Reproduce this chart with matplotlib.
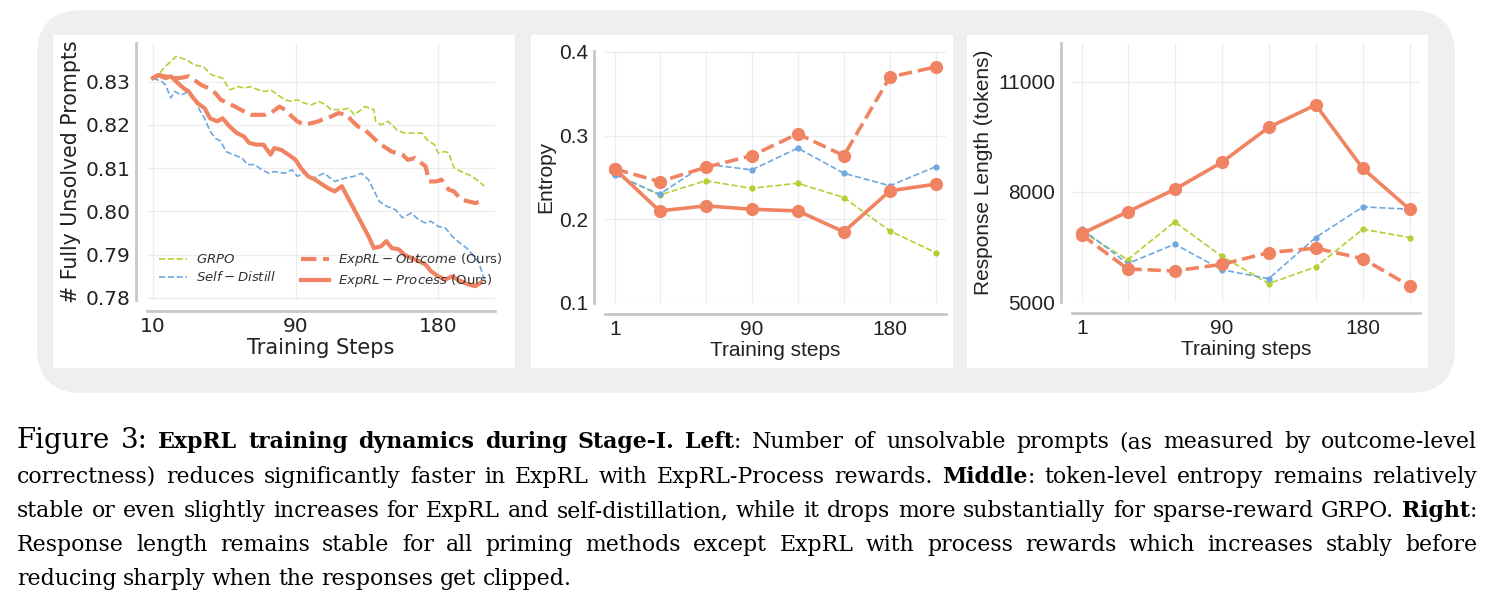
import matplotlib
matplotlib.use('Agg')
import matplotlib.pyplot as plt
from matplotlib.patches import FancyBboxPatch, Rectangle

# ---- left panel: fully unsolved prompts (x = position along the smoothed curve) ----
grpo_x = [0, 4, 7, 13, 19, 23, 28, 33, 39, 43, 48, 51, 55, 59, 63, 66, 70, 74, 78, 81,
          85, 89, 93, 97, 100, 106, 110, 113, 119, 124, 125, 128, 132, 137, 141, 147, 151, 154, 158, 160,
          164, 166, 169, 173, 179, 183, 186]
grpo_y = [0.8308, 0.8321, 0.8335, 0.8358, 0.8350, 0.8338, 0.8335, 0.8315, 0.8308, 0.8281,
          0.8288, 0.8285, 0.8288, 0.8281, 0.8277, 0.8281, 0.8269, 0.8258, 0.8254, 0.8258,
          0.8250, 0.8246, 0.8254, 0.8246, 0.8235, 0.8235, 0.8238, 0.8223, 0.8242, 0.8235,
          0.8208, 0.8200, 0.8208, 0.8188, 0.8181, 0.8181, 0.8181, 0.8165, 0.8154, 0.8135,
          0.8138, 0.8135, 0.8100, 0.8092, 0.8081, 0.8069, 0.8058]

distill_x = [0, 5, 7, 10, 12, 16, 20, 23, 26, 29, 32, 35, 38, 41, 45, 50, 53, 57, 61, 65,
             68, 74, 78, 81, 85, 90, 96, 102, 108, 113, 117, 121, 127, 131, 136, 140, 145, 149, 153, 156,
             160, 164, 168, 171, 177, 183, 186]
distill_y = [0.8308, 0.8300, 0.8292, 0.8262, 0.8277, 0.8269, 0.8277, 0.8262, 0.8235, 0.8215,
             0.8185, 0.8169, 0.8162, 0.8138, 0.8131, 0.8123, 0.8108, 0.8108, 0.8096, 0.8088,
             0.8092, 0.8088, 0.8096, 0.8081, 0.8088, 0.8077, 0.8088, 0.8069, 0.8077, 0.8081,
             0.8088, 0.8073, 0.8023, 0.8012, 0.8004, 0.7985, 0.7996, 0.7981, 0.7973, 0.7977,
             0.7965, 0.7962, 0.7942, 0.7931, 0.7912, 0.7881, 0.7842]

outcome_x = [0, 3, 7, 10, 15, 20, 23, 27, 31, 35, 38, 42, 46, 51, 55, 59, 63, 66, 71, 74,
             78, 81, 85, 89, 93, 95, 100, 104, 109, 111, 115, 119, 125, 128, 134, 140, 143, 147, 153, 155,
             159, 162, 166, 169, 173, 177, 181, 184, 186]
outcome_y = [0.8308, 0.8315, 0.8312, 0.8308, 0.8308, 0.8312, 0.8304, 0.8292, 0.8285, 0.8273,
             0.8258, 0.8250, 0.8242, 0.8231, 0.8223, 0.8223, 0.8223, 0.8227, 0.8242, 0.8235,
             0.8219, 0.8208, 0.8200, 0.8204, 0.8208, 0.8212, 0.8219, 0.8227, 0.8223, 0.8212,
             0.8196, 0.8188, 0.8165, 0.8154, 0.8138, 0.8131, 0.8119, 0.8123, 0.8104, 0.8069,
             0.8069, 0.8073, 0.8050, 0.8046, 0.8027, 0.8023, 0.8019, 0.8023, 0.8025]

process_x = [0, 3, 7, 10, 14, 17, 20, 22, 25, 29, 32, 36, 39, 43, 47, 51, 54, 58, 62, 66,
             68, 72, 76, 80, 83, 87, 91, 95, 98, 102, 106, 110, 113, 117, 121, 124, 128, 131, 134, 138,
             141, 145, 149, 153, 156, 160, 164, 168, 171, 177, 181, 184]
process_y = [0.8308, 0.8315, 0.8308, 0.8312, 0.8296, 0.8285, 0.8277, 0.8265, 0.8250, 0.8238,
             0.8215, 0.8208, 0.8215, 0.8196, 0.8181, 0.8173, 0.8158, 0.8154, 0.8154, 0.8131,
             0.8146, 0.8142, 0.8131, 0.8119, 0.8100, 0.8081, 0.8073, 0.8062, 0.8054, 0.8046,
             0.8058, 0.8027, 0.8004, 0.7973, 0.7942, 0.7915, 0.7919, 0.7931, 0.7915, 0.7912,
             0.7900, 0.7892, 0.7885, 0.7877, 0.7862, 0.7850, 0.7842, 0.7850, 0.7842, 0.7831,
             0.7827, 0.7835]

left_tick_pos = [0, 80, 160]
left_tick_labels = ['10', '90', '180']
left_yticks = [0.78, 0.79, 0.80, 0.81, 0.82, 0.83]

# ---- middle / right panels ----
steps = [1, 30, 60, 90, 120, 150, 180, 210]
step_labels = ['1', '', '', '90', '', '', '180', '']

ent_grpo = [0.254, 0.229, 0.246, 0.237, 0.243, 0.226, 0.186, 0.160]
ent_distill = [0.253, 0.230, 0.266, 0.259, 0.285, 0.255, 0.240, 0.263]
ent_outcome = [0.260, 0.245, 0.262, 0.276, 0.302, 0.276, 0.370, 0.382]
ent_process = [0.260, 0.210, 0.216, 0.212, 0.210, 0.185, 0.234, 0.242]

len_grpo = [6910, 6155, 7180, 6245, 5500, 5955, 6980, 6755]
len_distill = [6980, 6045, 6575, 5880, 5635, 6755, 7590, 7525]
len_outcome = [6820, 5900, 5845, 6025, 6345, 6465, 6180, 5435]
len_process = [6865, 7455, 8065, 8800, 9755, 10365, 8635, 7520]

GREEN = '#b5cf35'
BLUE = '#6fa8e0'
ORANGE = '#f08462'
INK = '#222222'

W, H = 1496, 605
fig = plt.figure(figsize=(W / 100, H / 100), dpi=100)

# rounded grey frame and white panels
frame = FancyBboxPatch((0.37, (H - 393) / 100), 14.18, 3.83,
                       boxstyle='round,pad=0,rounding_size=0.45',
                       transform=fig.dpi_scale_trans, facecolor='#efefef',
                       edgecolor='none', zorder=-3)
fig.add_artist(frame)
for l, r in [(53, 515), (531, 953), (967, 1428)]:
    fig.add_artist(Rectangle((l / W, 1 - 368 / H), (r - l) / W, (368 - 35) / H,
                             transform=fig.transFigure, facecolor='white',
                             edgecolor='none', zorder=-2))


def px_axes(l, t, r, b):
    return fig.add_axes([l / W, 1 - b / H, (r - l) / W, (b - t) / H])


def style(ax, family, size):
    ax.set_facecolor('none')
    for s in ['top', 'right']:
        ax.spines[s].set_visible(False)
    for s in ['left', 'bottom']:
        ax.spines[s].set_position(('outward', 8))
        ax.spines[s].set_color('#c8c8c8')
        ax.spines[s].set_linewidth(2)
    ax.grid(True, color='#ededed', lw=0.9)
    ax.set_axisbelow(True)
    ax.tick_params(length=0, labelsize=size, labelcolor=INK, pad=4,
                   labelfontfamily=family)


# left
ax1 = px_axes(147, 43, 495, 300)
style(ax1, 'DejaVu Sans', 14.5)
ax1.plot(grpo_x, grpo_y, '--', color=GREEN, lw=1.2, label='$GRPO$')
ax1.plot(distill_x, distill_y, '--', color=BLUE, lw=1.2, label='$Self-Distill$')
ax1.plot(outcome_x, outcome_y, '--', color=ORANGE, lw=3, label='$ExpRL-Outcome$ (Ours)')
ax1.plot(process_x, process_y, '-', color=ORANGE, lw=3, label='$ExpRL-Process$ (Ours)')
ax1.set_xlim(-3.4, 192)
ax1.set_ylim(0.7795, 0.8389)
ax1.set_xticks(left_tick_pos, left_tick_labels)
ax1.set_yticks(left_yticks, ['%.2f' % v for v in left_yticks])
ax1.tick_params(labelsize=14.5, labelfontfamily='DejaVu Sans')
ax1.set_xlabel('Training Steps', fontsize=15, color=INK, labelpad=2)
ax1.set_ylabel('# Fully Unsolved Prompts', fontsize=14.8, color=INK, labelpad=3)
ax1.legend(loc='lower left', bbox_to_anchor=(0.0, -0.005), ncol=2, frameon=False,
           fontsize=9.5, handlelength=2.1, handletextpad=0.7, columnspacing=1.9,
           labelspacing=0.3, labelcolor='#333333')

# middle
ax2 = px_axes(605, 51, 946, 303)
style(ax2, 'Liberation Sans', 15)
ax2.plot(steps, ent_grpo, '--', color=GREEN, lw=1.2, marker='o', ms=3.5)
ax2.plot(steps, ent_distill, '--', color=BLUE, lw=1.2, marker='o', ms=3.5)
ax2.plot(steps, ent_outcome, '--', color=ORANGE, lw=2.6, marker='o', ms=8.5)
ax2.plot(steps, ent_process, '-', color=ORANGE, lw=2.6, marker='o', ms=8.5)
ax2.set_xlim(-5.5, 216.5)
ax2.set_ylim(0.1, 0.401)
ax2.set_xticks(steps, step_labels)
ax2.set_yticks([0.1, 0.2, 0.3, 0.4], ['0.1', '0.2', '0.3', '0.4'])
ax2.tick_params(labelsize=15, labelfontfamily='Liberation Sans')
ax2.set_xlabel('Training steps', fontsize=15, family='Liberation Sans', color=INK, labelpad=2)
ax2.set_ylabel('Entropy', fontsize=15, family='Liberation Sans', color=INK, labelpad=3)

# right
ax3 = px_axes(1072, 43, 1420, 302)
style(ax3, 'Liberation Sans', 15)
ax3.plot(steps, len_grpo, '--', color=GREEN, lw=1.2, marker='o', ms=3.5)
ax3.plot(steps, len_distill, '--', color=BLUE, lw=1.2, marker='o', ms=3.5)
ax3.plot(steps, len_outcome, '--', color=ORANGE, lw=2.6, marker='o', ms=8.5)
ax3.plot(steps, len_process, '-', color=ORANGE, lw=2.6, marker='o', ms=8.5)
ax3.set_xlim(-5.5, 216.5)
ax3.set_ylim(5000, 12050)
ax3.set_xticks(steps, step_labels)
ax3.set_yticks([5000, 8000, 11000], ['5000', '8000', '11000'])
ax3.tick_params(labelsize=15, labelfontfamily='Liberation Sans')
ax3.set_xlabel('Training steps', fontsize=15, family='Liberation Sans', color=INK, labelpad=2)
ax3.set_ylabel('Response Length (tokens)', fontsize=15, family='Liberation Sans', color=INK, labelpad=4)

# caption, justified by hand
caption = [
    [('Figure 3:', 'fig'), (' ExpRL training dynamics during Stage-I. Left', 'bold'),
     (': Number of unsolvable prompts (as measured by outcome-level', 'normal')],
    [('correctness) reduces significantly faster in ExpRL with ExpRL-Process rewards. ', 'normal'),
     ('Middle', 'bold'), (': token-level entropy remains relatively', 'normal')],
    [('stable or even slightly increases for ExpRL and self-distillation, while it drops more '
      'substantially for sparse-reward GRPO. ', 'normal'), ('Right', 'bold'), (':', 'normal')],
    [('Response length remains stable for all priming methods except ExpRL with process rewards '
      'which increases stably before', 'normal')],
    [('reducing sharply when the responses get clipped.', 'normal')],
]
baselines = [448, 483, 517, 551, 585]
cap_styles = {
    'normal': dict(family='DejaVu Serif', size=15.8),
    'bold': dict(family='DejaVu Serif', size=15.8, weight='bold'),
    'fig': dict(family='DejaVu Serif', size=20),
}


def words_of(segments):
    words = []
    new = True
    for text, st in segments:
        for j, p in enumerate(text.split(' ')):
            if j > 0:
                new = True
            if p:
                if new:
                    words.append([])
                    new = False
                words[-1].append((p, st))
    return words


renderer = fig.canvas.get_renderer()
x_left, x_right = 17, 1477
for i, segs in enumerate(caption):
    words = words_of(segs)
    placed = []
    total = 0
    for w in words:
        runs = []
        for txt, st in w:
            t = fig.text(0, 0, txt, va='baseline', ha='left', color='black', **cap_styles[st])
            wd = t.get_window_extent(renderer).width
            runs.append((t, wd))
            total += wd
        placed.append(runs)
    if i < len(caption) - 1:
        gap = (x_right - x_left - total) / (len(words) - 1)
    else:
        gap = 6.5
    x = x_left
    y = 1 - baselines[i] / H
    for runs in placed:
        for t, wd in runs:
            t.set_position((x / W, y))
            x += wd
        x += gap

fig.savefig('out.png', dpi=100)
